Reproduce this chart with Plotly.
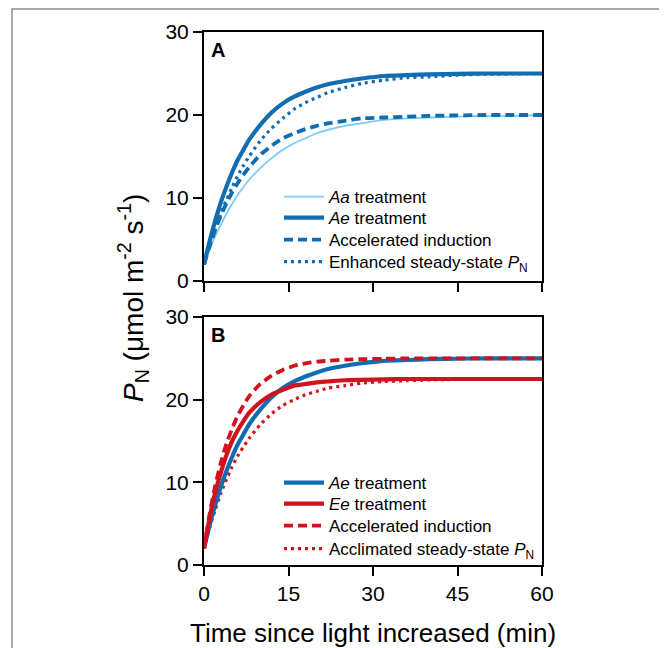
import plotly.graph_objects as go

# time points (min)
time_min = [0, 1, 2, 3, 4, 5, 6, 7, 8, 10, 12, 14, 16, 18, 20, 22, 25, 28, 32, 36, 40, 45, 50, 55, 60]

# Panel A
a_aa = [2.0, 3.8, 5.4, 6.8, 8.1, 9.3, 10.4, 11.3, 12.2, 13.6, 14.8, 15.8, 16.6, 17.2, 17.8, 18.2, 18.7, 19.0, 19.4, 19.6, 19.7, 19.8, 19.9, 19.9, 20.0]
a_ae = [2.0, 4.8, 7.3, 9.5, 11.4, 13.1, 14.6, 15.8, 17.0, 18.8, 20.3, 21.4, 22.2, 22.8, 23.3, 23.7, 24.1, 24.4, 24.7, 24.8, 24.9, 24.95, 25.0, 25.0, 25.0]
a_accel = [2.0, 4.2, 6.2, 7.9, 9.4, 10.7, 11.8, 12.8, 13.7, 15.2, 16.3, 17.2, 17.8, 18.3, 18.7, 19.0, 19.3, 19.6, 19.7, 19.8, 19.9, 19.95, 20.0, 20.0, 20.0]
a_enh = [2.0, 4.3, 6.3, 8.2, 9.8, 11.3, 12.7, 13.9, 15.0, 16.9, 18.4, 19.6, 20.7, 21.5, 22.1, 22.7, 23.3, 23.8, 24.2, 24.5, 24.6, 24.8, 24.9, 24.95, 25.0]

# Panel B
b_ae = a_ae
b_ee = [2.0, 5.7, 8.8, 11.2, 13.3, 15.0, 16.3, 17.4, 18.4, 19.7, 20.6, 21.2, 21.7, 21.9, 22.1, 22.2, 22.35, 22.4, 22.45, 22.5, 22.5, 22.5, 22.5, 22.5, 22.5]
b_accel = [2.0, 6.2, 9.6, 12.4, 14.7, 16.5, 18.1, 19.3, 20.4, 21.9, 22.9, 23.6, 24.1, 24.4, 24.6, 24.7, 24.85, 24.9, 24.95, 25.0, 25.0, 25.0, 25.0, 25.0, 25.0]
b_accl = [2.0, 4.5, 6.7, 8.7, 10.4, 11.9, 13.2, 14.3, 15.3, 17.0, 18.3, 19.3, 20.0, 20.6, 21.0, 21.4, 21.7, 22.0, 22.2, 22.3, 22.4, 22.45, 22.5, 22.5, 22.5]

x_ticks = [0, 15, 30, 45, 60]
y_ticks = [0, 10, 20, 30]

DARK = "#116db2"
LIGHT = "#7ccbf2"
RED = "#cf1420"
FONT = "Liberation Sans, Arial, sans-serif"

# page has an 8px body margin; work in reference pixel coords and shift
OFF = 8
W, H = 667 - OFF, 648 - OFF
L = 204 - OFF
T = 32 - OFF
R = W - (542 - OFF)
B = H - (565 - OFF)
pw, ph = W - L - R, H - T - B


def px_x(p):
    return (p - OFF - L) / pw


def px_y(p):
    return (H - B - (p - OFF)) / ph


fig = go.Figure()

# drawing order (bottom -> top) and legend slot per trace
entries = [
    (time_min, a_aa, "<i>Aa</i> treatment", LIGHT, 1.8, "solid", "x", "y", "legend", 197),
    (time_min, a_accel, "Accelerated induction", DARK, 3.8, "9px,5px", "x", "y", "legend3", 240),
    (time_min, a_enh, "Enhanced steady-state <i>P</i><sub>N</sub>", DARK, 3.2, "3px,4px", "x", "y", "legend4", 262),
    (time_min, a_ae, "<i>Ae</i> treatment", DARK, 4.2, "solid", "x", "y", "legend2", 218),
    (time_min, b_accl, "Acclimated steady-state <i>P</i><sub>N</sub>", RED, 3.2, "3px,4px", "x2", "y2", "legend8", 549),
    (time_min, b_ae, "<i>Ae</i> treatment", DARK, 4.2, "solid", "x2", "y2", "legend5", 483),
    (time_min, b_ee, "<i>Ee</i> treatment", RED, 4.2, "solid", "x2", "y2", "legend6", 504),
    (time_min, b_accel, "Accelerated induction", RED, 3.8, "9px,5px", "x2", "y2", "legend7", 526),
]

legend_layout = {}
for x, y, name, color, width, dash, xa, ya, leg, row_y in entries:
    fig.add_trace(go.Scatter(x=x, y=y, name=name, mode="lines",
                             line=dict(color=color, width=width, dash=dash, shape="spline", smoothing=0.6),
                             xaxis=xa, yaxis=ya, legend=leg, hoverinfo="skip"))
    legend_layout[leg] = dict(x=px_x(279), y=px_y(row_y), xanchor="left", yanchor="middle",
                              bgcolor="rgba(0,0,0,0)", borderwidth=0, itemwidth=40,
                              font=dict(family=FONT, size=17, color="black"))

axis_common = dict(showgrid=False, zeroline=False, showline=True, linecolor="black",
                   linewidth=2, mirror=True, ticks="outside", ticklen=9, tickwidth=2,
                   tickcolor="black", tickfont=dict(family=FONT, size=21, color="black"))

fig.update_layout(
    width=W, height=H,
    margin=dict(l=L, r=R, t=T, b=B, autoexpand=False),
    plot_bgcolor="white", paper_bgcolor="white",
    font=dict(family=FONT, color="black"),
    xaxis=dict(axis_common, range=[0, 60], tickvals=x_ticks, showticklabels=False, anchor="y", domain=[0, 1]),
    yaxis=dict(axis_common, range=[0, 30], tickvals=y_ticks, anchor="x", domain=[px_y(281), 1]),
    xaxis2=dict(axis_common, range=[0, 60], tickvals=x_ticks, anchor="y2", domain=[0, 1]),
    yaxis2=dict(axis_common, range=[0, 30], tickvals=y_ticks, anchor="x2", domain=[0, px_y(317)]),
    showlegend=True,
    **legend_layout,
)

fig.add_annotation(text="<b>A</b>", xref="paper", yref="paper", x=px_x(209), y=px_y(37),
                   xanchor="left", yanchor="top", showarrow=False, font=dict(family=FONT, size=20))
fig.add_annotation(text="<b>B</b>", xref="paper", yref="paper", x=px_x(209), y=px_y(322),
                   xanchor="left", yanchor="top", showarrow=False, font=dict(family=FONT, size=20))
fig.add_annotation(text="<i>P</i><sub>N</sub> (μmol m<sup>-2</sup> s<sup>-1</sup>)", xref="paper", yref="paper",
                   x=px_x(133), y=px_y(298), textangle=-90, xanchor="center", yanchor="middle",
                   showarrow=False, font=dict(family=FONT, size=28))
fig.add_annotation(text="Time since light increased (min)", xref="paper", yref="paper",
                   x=0.5, y=px_y(633), xanchor="center", yanchor="middle",
                   showarrow=False, font=dict(family=FONT, size=26))

fig.add_shape(type="rect", xref="paper", yref="paper", x0=px_x(12), x1=px_x(665), y0=px_y(700), y1=px_y(9),
              line=dict(color="#8c8c8c", width=1.5), layer="below")

fig.write_html("out.html")
